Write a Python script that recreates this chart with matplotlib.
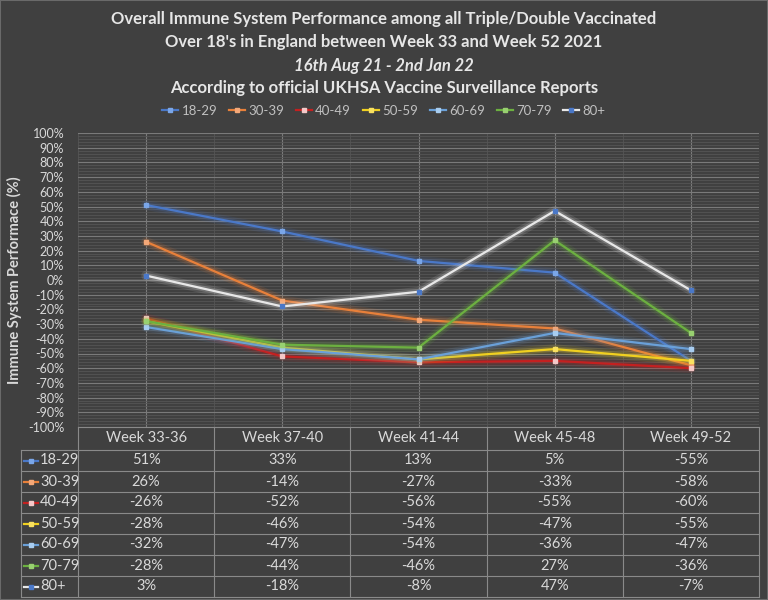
import matplotlib
matplotlib.use("Agg")
import matplotlib.pyplot as plt
import matplotlib.transforms as mtransforms
import numpy as np

plt.rcParams['font.family'] = ['Lato', 'DejaVu Sans']

weeks = ['Week 33-36', 'Week 37-40', 'Week 41-44', 'Week 45-48', 'Week 49-52']
groups = ['18-29', '30-39', '40-49', '50-59', '60-69', '70-79', '80+']
v_18_29 = [51, 33, 13, 5, -55]
v_30_39 = [26, -14, -27, -33, -58]
v_40_49 = [-26, -52, -56, -55, -60]
v_50_59 = [-28, -46, -54, -47, -55]
v_60_69 = [-32, -47, -54, -36, -47]
v_70_79 = [-28, -44, -46, 27, -36]
v_80 = [3, -18, -8, 47, -7]
values = [v_18_29, v_30_39, v_40_49, v_50_59, v_60_69, v_70_79, v_80]

line_cols = ['#4a78c8', '#e8803a', '#c42020', '#f0d020', '#6aa0d8', '#6cb040', '#e8e8e8']
mark_cols = ['#7aa6e8', '#f4a878', '#f4c8c8', '#f8e060', '#a8cdf0', '#98d070', '#4a78c8']

bg = '#404040'
txt = '#d9d9d9'
grid_major = '#7a7a7a'
grid_minor = '#555555'

fig = plt.figure(figsize=(7.68, 6.0), dpi=100, facecolor=bg)
fig.patches.append(plt.Rectangle((0, 0), 1, 1, transform=fig.transFigure,
                                 fill=False, edgecolor='#6a6a6a', lw=1.5))

W, H = 768, 600
ax = fig.add_axes([78 / W, (H - 427) / H, (759 - 78) / W, (427 - 133) / H])
ax.set_facecolor(bg)
x = np.arange(len(weeks))

for i, g in enumerate(groups):
    # soft glow under each line
    ax.plot(x, values[i], color=line_cols[i], lw=7, alpha=0.12, zorder=3 + i,
            solid_capstyle='round', solid_joinstyle='round')
    ax.plot(x, values[i], color=line_cols[i], lw=4, alpha=0.2, zorder=3 + i,
            solid_capstyle='round', solid_joinstyle='round')
    ax.plot(x, values[i], color=line_cols[i], lw=1.6, marker='s', ms=3.5,
            mfc=mark_cols[i], mec=mark_cols[i], label=g, zorder=3 + i)

ax.set_xlim(-0.5, len(weeks) - 0.5)
ax.set_ylim(-100, 100)
ax.set_yticks(np.arange(-100, 101, 10))
ax.set_yticklabels([f'{t}%' for t in range(-100, 101, 10)])
ax.set_yticks(np.arange(-100, 101, 2), minor=True)
ax.set_xticks(x)
ax.set_xticks(np.arange(-0.5, len(weeks), 1), minor=True)
ax.tick_params(axis='x', which='both', length=0, labelbottom=False)
ax.tick_params(axis='y', which='both', length=0, colors=txt, labelsize=9, pad=10)
ax.grid(which='major', color=grid_major, lw=0.8, zorder=0)
ax.grid(which='minor', color=grid_minor, lw=0.6, zorder=0)
ax.axhline(0, color='#a0a0a0', lw=1, zorder=1)
for s in ax.spines.values():
    s.set_visible(False)
ax.set_ylabel('Immune System Performace (%)', color=txt, fontsize=10.5,
              fontweight='bold', labelpad=4)

# title
title_lines = [
    ('Overall Immune System Performance among all Triple/Double Vaccinated', 'normal'),
    ("Over 18's in England between Week 33 and Week 52 2021", 'normal'),
    ('16th Aug 21 - 2nd Jan 22', 'italic'),
    ('According to official UKHSA Vaccine Surveillance Reports', 'normal'),
]
ty = [19, 42, 66, 88]
for (t, st), yy in zip(title_lines, ty):
    fig.text(0.5, 1 - yy / H, t, ha='center', va='center', color='#e6e6e6',
             fontsize=12, fontweight='bold', style=st)

leg = fig.legend(loc='center', bbox_to_anchor=(0.5, 1 - 111 / H), ncol=7, frameon=False,
                 fontsize=9.5, handlelength=1.2, handletextpad=0.25, columnspacing=0.9,
                 labelcolor='#c0c0c0')

# data table below the plot
tr = mtransforms.blended_transform_factory(ax.transData, fig.transFigure)
header_top, header_bot, row_h = 427, 450, 21
nrows = len(groups)
bottom = header_bot + nrows * row_h
tcol = '#8a8a8a'

xs_edges = np.arange(-0.5, len(weeks), 1)
for xe in xs_edges:
    ax.plot([xe, xe], [1 - header_top / H, 1 - bottom / H], transform=tr,
            color=tcol, lw=0.8, clip_on=False)
ax.plot([-0.5, len(weeks) - 0.5], [1 - header_top / H] * 2, transform=tr,
        color=tcol, lw=0.8, clip_on=False)
leg_left = 21 / W
for r in range(nrows + 1):
    yy = 1 - (header_bot + r * row_h) / H
    fig.add_artist(plt.Line2D([leg_left, 759 / W], [yy, yy], color=tcol, lw=0.8))
fig.add_artist(plt.Line2D([leg_left, leg_left], [1 - header_bot / H, 1 - bottom / H],
                          color=tcol, lw=0.8))

for j, w in enumerate(weeks):
    ax.text(j, 1 - (header_top + header_bot) / 2 / H, w, transform=tr, ha='center',
            va='center', color=txt, fontsize=10.5)
for i, g in enumerate(groups):
    yy = 1 - (header_bot + (i + 0.5) * row_h) / H
    for j in range(len(weeks)):
        ax.text(j, yy, f'{values[i][j]}%', transform=tr, ha='center', va='center',
                color=txt, fontsize=10.5)
    fig.add_artist(plt.Line2D([24 / W, 38 / W], [yy, yy], color=line_cols[i], lw=1.6))
    fig.add_artist(plt.Line2D([31 / W], [yy], marker='s', ms=3.5, color=mark_cols[i]))
    fig.text(40 / W, yy, g, ha='left', va='center', color=txt, fontsize=10.5)

fig.savefig('out.png', dpi=100, facecolor=bg)
